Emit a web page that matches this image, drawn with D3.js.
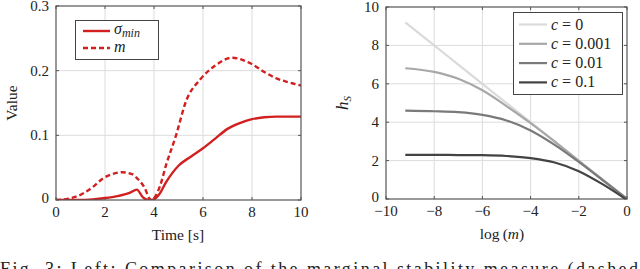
<!DOCTYPE html>
<html>
<head>
<meta charset="utf-8">
<script src="https://cdn.jsdelivr.net/npm/d3@7"></script>
<style>
body { margin: 0; background: #fff; }
svg text { font-family: "Liberation Serif", "DejaVu Serif", "Noto Serif", serif; }
.grid line { stroke: #dcdcdc; stroke-width: 1; }
.frame { fill: none; stroke: #555; stroke-width: 1.2; }
.tick-lbl { font-size: 15px; fill: #222; }
.ttl { font-size: 15.5px; fill: #222; }
</style>
</head>
<body>
<script>
// left panel: time series
var timeSigma = [0, 1, 1.5, 2, 2.5, 3, 3.3, 3.55, 3.8, 4.0, 4.2, 4.5, 5, 5.5, 6, 6.5, 7, 7.5, 8, 8.5, 9, 10];
var sigmaMin  = [0, 0, 0.001, 0.003, 0.006, 0.011, 0.016, 0.004, 0.0, 0.001, 0.008, 0.028, 0.053, 0.067, 0.080, 0.095, 0.110, 0.119, 0.125, 0.128, 0.129, 0.129];
var timeM = [0, 0.5, 1.1, 1.5, 1.9, 2.3, 2.7, 3.1, 3.3, 3.6, 3.88, 4.24, 4.5, 4.9, 5.3, 5.9, 6.5, 7.2, 7.9, 8.5, 9.0, 9.5, 10];
var mVals = [0, 0.002, 0.010, 0.020, 0.033, 0.040, 0.043, 0.040, 0.034, 0.020, 0.0, 0.021, 0.055, 0.100, 0.152, 0.187, 0.208, 0.220, 0.212, 0.198, 0.188, 0.182, 0.177];
var leftXTicks = [0, 2, 4, 6, 8, 10];
var leftYTicks = [0, 0.1, 0.2, 0.3];

// right panel: h_S against log(m)
var logM = [-9.2, -8, -7, -6, -5, -4, -3, -2, -1, 0];
var hC0    = [9.2, 8.0, 7.0, 6.0, 5.0, 4.0, 3.0, 2.0, 1.0, 0.0];
var hC0001 = [6.81, 6.62, 6.26, 5.66, 4.84, 3.95, 2.99, 1.99, 1.00, 0.0];
var hC001  = [4.60, 4.57, 4.52, 4.38, 4.09, 3.57, 2.82, 1.93, 0.97, 0.01];
var hC01   = [2.30, 2.30, 2.29, 2.28, 2.24, 2.13, 1.90, 1.45, 0.76, -0.05];
var cLabels = ["c = 0", "c = 0.001", "c = 0.01", "c = 0.1"];
var cColors = ["#dadada", "#a8a8a8", "#7a7a7a", "#434343"];
var rightXTicks = [-10, -8, -6, -4, -2, 0];
var rightYTicks = [0, 2, 4, 6, 8, 10];

var red = "#d21f1f";
var serif = "'Liberation Serif', 'DejaVu Serif', 'Noto Serif', serif";

var svg = d3.select("body").append("svg")
    .attr("width", 640)
    .attr("height", 269)
    .style("font-family", serif);

function fmtMinus(d) {
    return String(d).replace("-", "\u2212");
}

function panel(x0, x1, y0, y1, xDom, yDom, xTicks, yTicks, yFmt) {
    var x = d3.scaleLinear().domain(xDom).range([x0, x1]);
    var y = d3.scaleLinear().domain(yDom).range([y1, y0]);
    var g = svg.append("g");
    var grid = g.append("g").attr("class", "grid");
    grid.selectAll(".vx").data(xTicks.slice(1, -1)).enter().append("line")
        .attr("x1", x).attr("x2", x).attr("y1", y0).attr("y2", y1);
    grid.selectAll(".hy").data(yTicks.slice(1, -1)).enter().append("line")
        .attr("y1", y).attr("y2", y).attr("x1", x0).attr("x2", x1);
    // inward tick marks
    var tk = g.append("g").attr("stroke", "#555").attr("stroke-width", 1);
    xTicks.forEach(function(d) {
        tk.append("line").attr("x1", x(d)).attr("x2", x(d)).attr("y1", y1).attr("y2", y1 - 3);
        tk.append("line").attr("x1", x(d)).attr("x2", x(d)).attr("y1", y0).attr("y2", y0 + 3);
    });
    yTicks.forEach(function(d) {
        tk.append("line").attr("y1", y(d)).attr("y2", y(d)).attr("x1", x0).attr("x2", x0 + 3);
        tk.append("line").attr("y1", y(d)).attr("y2", y(d)).attr("x1", x1).attr("x2", x1 - 3);
    });
    g.selectAll(".xl").data(xTicks).enter().append("text")
        .attr("class", "tick-lbl")
        .attr("x", x).attr("y", y1 + 17)
        .attr("text-anchor", "middle")
        .text(fmtMinus);
    g.selectAll(".yl").data(yTicks).enter().append("text")
        .attr("class", "tick-lbl")
        .attr("x", x0 - 7).attr("y", function(d) { return y(d) + (d === 0 ? 3 : 5); })
        .attr("text-anchor", "end")
        .text(yFmt);
    var clipId = "clip" + x0;
    svg.append("clipPath").attr("id", clipId).append("rect")
        .attr("x", x0).attr("y", y0).attr("width", x1 - x0).attr("height", y1 - y0);
    var plot = g.append("g").attr("clip-path", "url(#" + clipId + ")");
    return { x: x, y: y, g: g, plot: plot, frame: function() {
        g.append("rect").attr("class", "frame")
            .attr("x", x0).attr("y", y0).attr("width", x1 - x0).attr("height", y1 - y0);
    } };
}

// ---- left panel
var L = panel(56, 301, 6, 200, [0, 10], [0, 0.3], leftXTicks, leftYTicks,
    function(d) { return d === 0 ? "0" : d.toFixed(1); });
var lineL = d3.line().curve(d3.curveMonotoneX)
    .x(function(d) { return L.x(d[0]); })
    .y(function(d) { return L.y(d[1]); });
L.plot.append("path")
    .datum(timeM.map(function(t, i) { return [t, mVals[i]]; }))
    .attr("d", lineL)
    .attr("fill", "none").attr("stroke", red).attr("stroke-width", 2.4)
    .attr("stroke-dasharray", "5,3");
L.plot.append("path")
    .datum(timeSigma.map(function(t, i) { return [t, sigmaMin[i]]; }))
    .attr("d", lineL)
    .attr("fill", "none").attr("stroke", red).attr("stroke-width", 2.4);
L.frame();

var legL = svg.append("g");
legL.append("rect").attr("x", 75.5).attr("y", 20.5).attr("width", 83).attr("height", 39)
    .attr("fill", "#fff").attr("stroke", "#444").attr("stroke-width", 1);
legL.append("line").attr("x1", 83).attr("x2", 110).attr("y1", 31).attr("y2", 31)
    .attr("stroke", red).attr("stroke-width", 2.4);
legL.append("line").attr("x1", 83).attr("x2", 110).attr("y1", 48).attr("y2", 48)
    .attr("stroke", red).attr("stroke-width", 2.4).attr("stroke-dasharray", "5,3");
var sT = legL.append("text").attr("x", 114).attr("y", 34).attr("font-size", 16).attr("fill", "#222");
sT.append("tspan").attr("font-style", "italic").text("\u03c3");
sT.append("tspan").attr("font-style", "italic").attr("font-size", 12).attr("dy", 3).text("min");
legL.append("text").attr("x", 114).attr("y", 52).attr("font-size", 16)
    .attr("font-style", "italic").attr("fill", "#222").text("m");

svg.append("text").attr("class", "ttl").attr("x", 178).attr("y", 240)
    .attr("text-anchor", "middle").text("Time [s]");
svg.append("text").attr("class", "ttl")
    .attr("transform", "translate(17,103) rotate(-90)")
    .attr("text-anchor", "middle").text("Value");

// ---- right panel
var R = panel(386, 627, 7, 199, [-10, 0], [0, 10], rightXTicks, rightYTicks, String);
var lineR = d3.line().curve(d3.curveMonotoneX)
    .x(function(d) { return R.x(d[0]); })
    .y(function(d) { return R.y(d[1]); });
[hC0, hC0001, hC001, hC01].forEach(function(vals, k) {
    R.plot.append("path")
        .datum(logM.map(function(v, i) { return [v, vals[i]]; }))
        .attr("d", lineR)
        .attr("fill", "none").attr("stroke", cColors[k]).attr("stroke-width", 2.2);
});
R.frame();

var legR = svg.append("g");
legR.append("rect").attr("x", 513.5).attr("y", 12.5).attr("width", 109).attr("height", 82)
    .attr("fill", "#fff").attr("stroke", "#444").attr("stroke-width", 1);
var legRows = legR.selectAll(".row").data(cLabels).enter().append("g")
    .attr("transform", function(d, i) { return "translate(0," + (24.5 + i * 19.3) + ")"; });
legRows.append("line").attr("x1", 519).attr("x2", 547)
    .attr("stroke", function(d, i) { return cColors[i]; }).attr("stroke-width", 2.2);
var lt = legRows.append("text").attr("x", 551).attr("y", 5).attr("font-size", 16).attr("fill", "#222");
lt.append("tspan").attr("font-style", "italic").text("c");
lt.append("tspan").text(function(d) { return d.slice(1); });

svg.append("text").attr("class", "ttl").attr("x", 502).attr("y", 239)
    .attr("text-anchor", "middle")
    .html('log\u2009(<tspan font-style="italic">m</tspan>)');
var hT = svg.append("text").attr("class", "ttl")
    .attr("transform", "translate(348,103) rotate(-90)")
    .attr("text-anchor", "middle");
hT.append("tspan").attr("font-style", "italic").attr("font-size", 17).text("h");
hT.append("tspan").attr("font-style", "italic").attr("font-size", 11).attr("dy", 3).text("S");

// cut-off caption
svg.append("text").attr("x", 0).attr("y", 275)
    .attr("font-size", 18).attr("fill", "#222")
    .attr("textLength", 638).attr("lengthAdjust", "spacing")
    .text("Fig. 3: Left: Comparison of the marginal stability measure (dashed");
</script>
</body>
</html>
